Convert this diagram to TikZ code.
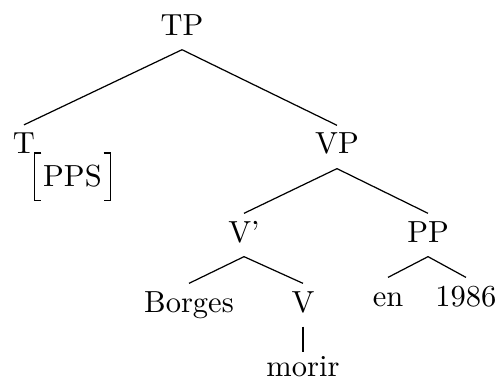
\documentclass[tikz,border=0pt]{standalone}
\usepackage{tikz}
\tikzset{syn/.style={anchor=base,inner sep=2pt,text height=7.2pt,text depth=2.6pt}}
\tikzset{feat/.style={anchor=base,inner xsep=2.6pt,inner ysep=3pt,text height=7.6pt,text depth=1.6pt}}

\begin{document}
\begin{tikzpicture}[scale=1]
  \useasboundingbox (0,0) rectangle (5.76,4.378);
  \node[syn] (tp) at (2.097,3.974) {TP};
  \node[syn] (t) at (0.276,2.609) {T};
  \node[feat] (pps) at (0.835,2.235) {PPS};
  \node[syn] (vp) at (3.882,2.604) {VP};
  \node[syn] (vbar) at (2.811,1.590) {V'};
  \node[syn] (pp) at (4.931,1.590) {PP};
  \node[syn] (borges) at (2.177,0.783) {Borges};
  \node[syn] (v) at (3.491,0.783) {V};
  \node[syn] (en) at (4.470,0.852) {en};
  \node[syn] (year) at (5.368,0.852) {1986};
  \node[syn,text height=5.6pt] (morir) at (3.491,0.046) {morir};
  % feature brackets
  \draw ([xshift=2.2pt]pps.north west) -- (pps.north west) -- (pps.south west) -- ++(2.2pt,0);
  \draw ([xshift=-2.2pt]pps.north east) -- (pps.north east) -- (pps.south east) -- ++(-2.2pt,0);
  % branches
  \draw (tp.south) -- (t.north);
  \draw (tp.south) -- (vp.north);
  \draw (vp.south) -- (vbar.north);
  \draw (vp.south) -- (pp.north);
  \draw (vbar.south) -- (borges.north);
  \draw (vbar.south) -- (v.north);
  \draw (pp.south) -- (en.north);
  \draw (pp.south) -- (year.north);
  \draw (v.south) -- (morir.north);
\end{tikzpicture}
\end{document}
